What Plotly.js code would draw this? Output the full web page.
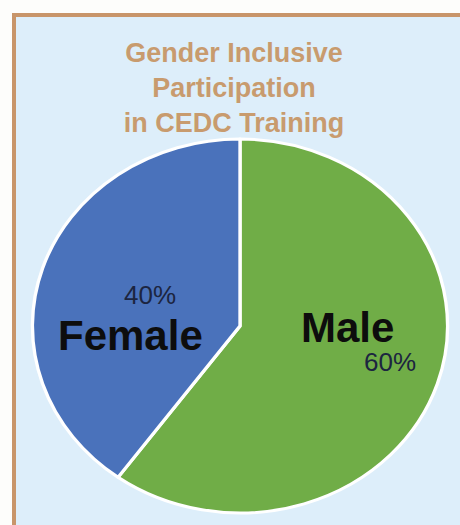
<!DOCTYPE html>
<html>
<head>
<meta charset="utf-8">
<script src="https://cdn.plot.ly/plotly-3.0.1.min.js"></script>
<style>
  html, body { margin: 0; padding: 0; background: #fdfdfb; }
  #chart { width: 460px; height: 525px; }
  /* the reference pie is slightly wider than tall */
  #chart .pielayer { transform: scaleX(1.11); transform-origin: 240px 326px; }
</style>
</head>
<body>
<div id="chart"></div>
<script>
// ---- data ----
const categories = ["Male", "Female"];
const values = [60, 40];
const sliceColors = ["#70ad47", "#4a72bb"];
const titleLines = ["Gender Inclusive", "Participation", "in CEDC Training"];

const total = values.reduce((a, b) => a + b, 0);
const pctText = values.map(v => Math.round(v / total * 100) + "%");

const trace = {
  type: "pie",
  labels: categories,
  values: values,
  sort: false,
  direction: "clockwise",
  rotation: 0,
  textinfo: "none",
  hoverinfo: "label+percent",
  showlegend: false,
  marker: { colors: sliceColors, line: { color: "#ffffff", width: 3 } },
  domain: { x: [53 / 460, 427 / 460], y: [12 / 525, 386 / 525] }
};

const labelFont = { family: "Liberation Sans, Arial, sans-serif", size: 42, color: "#0d0d0d" };
const pctFont = { family: "Liberation Sans, Arial, sans-serif", size: 26, color: "#1c2540" };

function ann(text, px, py, font) {
  return { text: text, x: px / 460, y: 1 - py / 525, xref: "paper", yref: "paper",
           xanchor: "center", yanchor: "middle", showarrow: false, font: font,
           borderpad: 0 };
}

const layout = {
  width: 460,
  height: 525,
  margin: { l: 0, r: 0, t: 0, b: 0 },
  paper_bgcolor: "#fdfdfb",
  title: {
    text: titleLines.map(s => "<b>" + s + "</b>").join("<br>"),
    font: { family: "Liberation Sans, Arial, sans-serif", size: 27, color: "#c89b6e" },
    x: 234 / 460, xanchor: "center",
    y: 1 - 62 / 525, yanchor: "top", yref: "container"
  },
  shapes: [{
    type: "rect", xref: "paper", yref: "paper", layer: "below",
    x0: 14 / 460, x1: 1.05, y0: -0.05, y1: 1 - 15 / 525,
    fillcolor: "#ddeefa",
    line: { color: "#c8956a", width: 4 }
  }],
  annotations: [
    ann("<b>" + categories[1] + "</b>", 130, 335, labelFont),
    ann(pctText[1], 150, 295, pctFont),
    ann("<b>" + categories[0] + "</b>", 347, 327, labelFont),
    ann(pctText[0], 390, 362, pctFont)
  ]
};

Plotly.newPlot("chart", [trace], layout, { displayModeBar: false, staticPlot: true });
</script>
</body>
</html>
